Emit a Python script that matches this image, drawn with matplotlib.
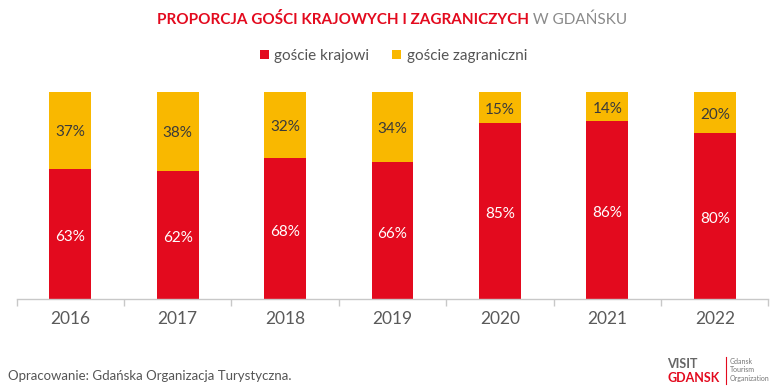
import matplotlib
matplotlib.use("Agg")
import matplotlib.pyplot as plt
import numpy as np

years = ["2016", "2017", "2018", "2019", "2020", "2021", "2022"]
domestic = [63, 62, 68, 66, 85, 86, 80]
foreign = [37, 38, 32, 34, 15, 14, 20]
series_names = ["goście krajowi", "goście zagraniczni"]

RED = "#E30A1E"
YEL = "#F9B800"
FONT = ["Lato", "DejaVu Sans"]

fig = plt.figure(figsize=(7.82, 3.91), dpi=100)
ax = fig.add_axes([16.5/782, 1-299/391, (768.5-16.5)/782, (299-92)/391])

x = np.arange(len(years))
w = 0.39
b1 = ax.bar(x, domestic, w, color=RED, label=series_names[0])
b2 = ax.bar(x, foreign, w, bottom=domestic, color=YEL, label=series_names[1])

for i in range(len(years)):
    ax.text(x[i], domestic[i]/2 - 1.5, f"{domestic[i]}%", ha="center", va="center",
            color="white", fontsize=11, family=FONT)
    ax.text(x[i], domestic[i] + foreign[i]/2 - 1, f"{foreign[i]}%", ha="center", va="center",
            color="#3a3a3a", fontsize=11, family=FONT)

ax.set_xlim(-0.5, len(years)-0.5)
ax.set_ylim(0, 100)
ax.set_yticks([])
for s in ["top", "right", "left"]:
    ax.spines[s].set_visible(False)
ax.spines["bottom"].set_color("#c8c8c8")
ax.spines["bottom"].set_linewidth(1)
ax.set_xticks(x)
ax.set_xticklabels(years, family=FONT, fontsize=12.5, color="#5a5a5a")
ax.tick_params(axis="x", which="major", length=0, pad=9)
ax.set_xticks(np.arange(-0.5, len(years), 1), minor=True)
ax.tick_params(axis="x", which="minor", length=5, color="#c8c8c8", width=1)

# title
t1 = fig.text(0.5, 1-20/391, "PROPORCJA GOŚCI KRAJOWYCH I ZAGRANICZYCH", ha="right",
              va="center", color=RED, fontsize=11, fontweight="bold", family=FONT)
fig.canvas.draw()
r = fig.canvas.get_renderer()
bb1 = t1.get_window_extent(r)
t2 = fig.text(0.5, 1-20/391, " W GDAŃSKU", ha="left", va="center", color="#8a8a8a",
              fontsize=11, family=FONT)
bb2 = t2.get_window_extent(r)
total = bb1.width + bb2.width
start = 392 - total/2
t1.set_x((start + bb1.width)/782)
t2.set_x((start + bb1.width)/782)

leg = fig.legend(handles=[b1, b2], labels=series_names, loc="center",
                 bbox_to_anchor=(0.503, 1-56/391), ncol=2, frameon=False,
                 prop={"family": FONT, "size": 11},
                 handlelength=0.6, handleheight=0.6,
                 handletextpad=0.35, columnspacing=1.5)
for txt in leg.get_texts():
    txt.set_color("#555555")

fig.text(8/782, 1-376/391, "Opracowanie: Gdańska Organizacja Turystyczna.", ha="left",
         va="center", color="#555555", fontsize=9.5, family=FONT)

# logo
fig.text(667/782, 1-364/391, "VISIT", ha="left", va="center", color="#666666",
         fontsize=9, fontweight="bold", family=FONT)
fig.text(667/782, 1-378/391, "GDANSK", ha="left", va="center", color=RED,
         fontsize=9, fontweight="bold", family=FONT)
fig.add_artist(plt.Line2D([726/782, 726/782], [1-357/391, 1-384/391], color=RED, lw=0.8))
for k, s in enumerate(["Gdansk", "Tourism", "Organization"]):
    fig.text(730/782, 1-(361+9*k)/391, s, ha="left", va="center", color="#777777",
             fontsize=5, family=FONT)

fig.savefig("out.png", dpi=100)
